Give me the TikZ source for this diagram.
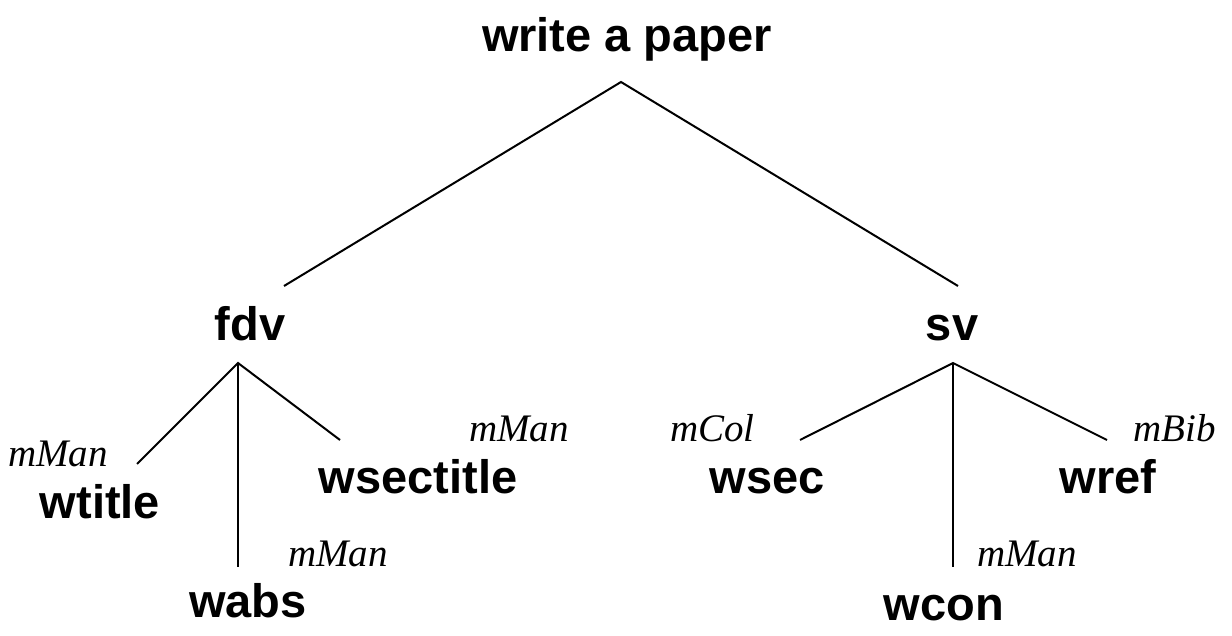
\documentclass[tikz,border=0pt]{standalone}
\usepackage{fontspec}
\setmainfont{Liberation Serif}
\setsansfont{Liberation Sans}
\tikzset{
  goal/.style={anchor=base, inner sep=0pt, font=\fontsize{47}{52}\selectfont\sffamily\bfseries},
  meth/.style={anchor=base west, inner sep=0pt, font=\fontsize{39}{44}\selectfont\itshape},
  branch/.style={line width=2pt, line cap=butt, line join=miter}
}
\begin{document}
\begin{tikzpicture}[x=1pt,y=-1pt]
\useasboundingbox (0,0) rectangle (1232,636);
% goal nodes
\node[goal] (root) at (627,52) {write a paper};
\node[goal] (fdv) at (250,341) {fdv};
\node[goal] (sv) at (952,341) {sv};
\node[goal] (wtitle) at (100,518) {wtitle};
\node[goal] (wabs) at (248,617) {wabs};
\node[goal] (wsectitle) at (418,493) {wsectitle};
\node[goal] (wsec) at (767,493) {wsec};
\node[goal] (wref) at (1108,493) {wref};
\node[goal] (wcon) at (944,620) {wcon};
% method labels
\node[meth] (m1) at (8,466) {mMan};
\node[meth] (m2) at (469,441) {mMan};
\node[meth] (m3) at (288,566) {mMan};
\node[meth] (m4) at (670,441) {mCol};
\node[meth] (m5) at (1133,441) {mBib};
\node[meth] (m6) at (977,566) {mMan};
% connector end points
\coordinate (rootapex) at (621,82);
\coordinate (fdvtop) at (284,286);
\coordinate (svtop) at (958,286);
\coordinate (fdvapex) at (238,363);
\coordinate (wtitletop) at (137,464);
\coordinate (wabstop) at (238,567);
\coordinate (wsectitletop) at (340,440);
\coordinate (svapex) at (953,363);
\coordinate (wsectop) at (800,440);
\coordinate (wcontop) at (953,567);
\coordinate (wreftop) at (1107,440);
% connectors
\draw[branch] (fdvtop) -- (rootapex) -- (svtop);
\draw[branch] (wtitletop) -- (fdvapex) -- (wsectitletop);
\draw[branch] (fdvapex) -- (wabstop);
\draw[branch] (wsectop) -- (svapex) -- (wreftop);
\draw[branch] (svapex) -- (wcontop);
\end{tikzpicture}
\end{document}
